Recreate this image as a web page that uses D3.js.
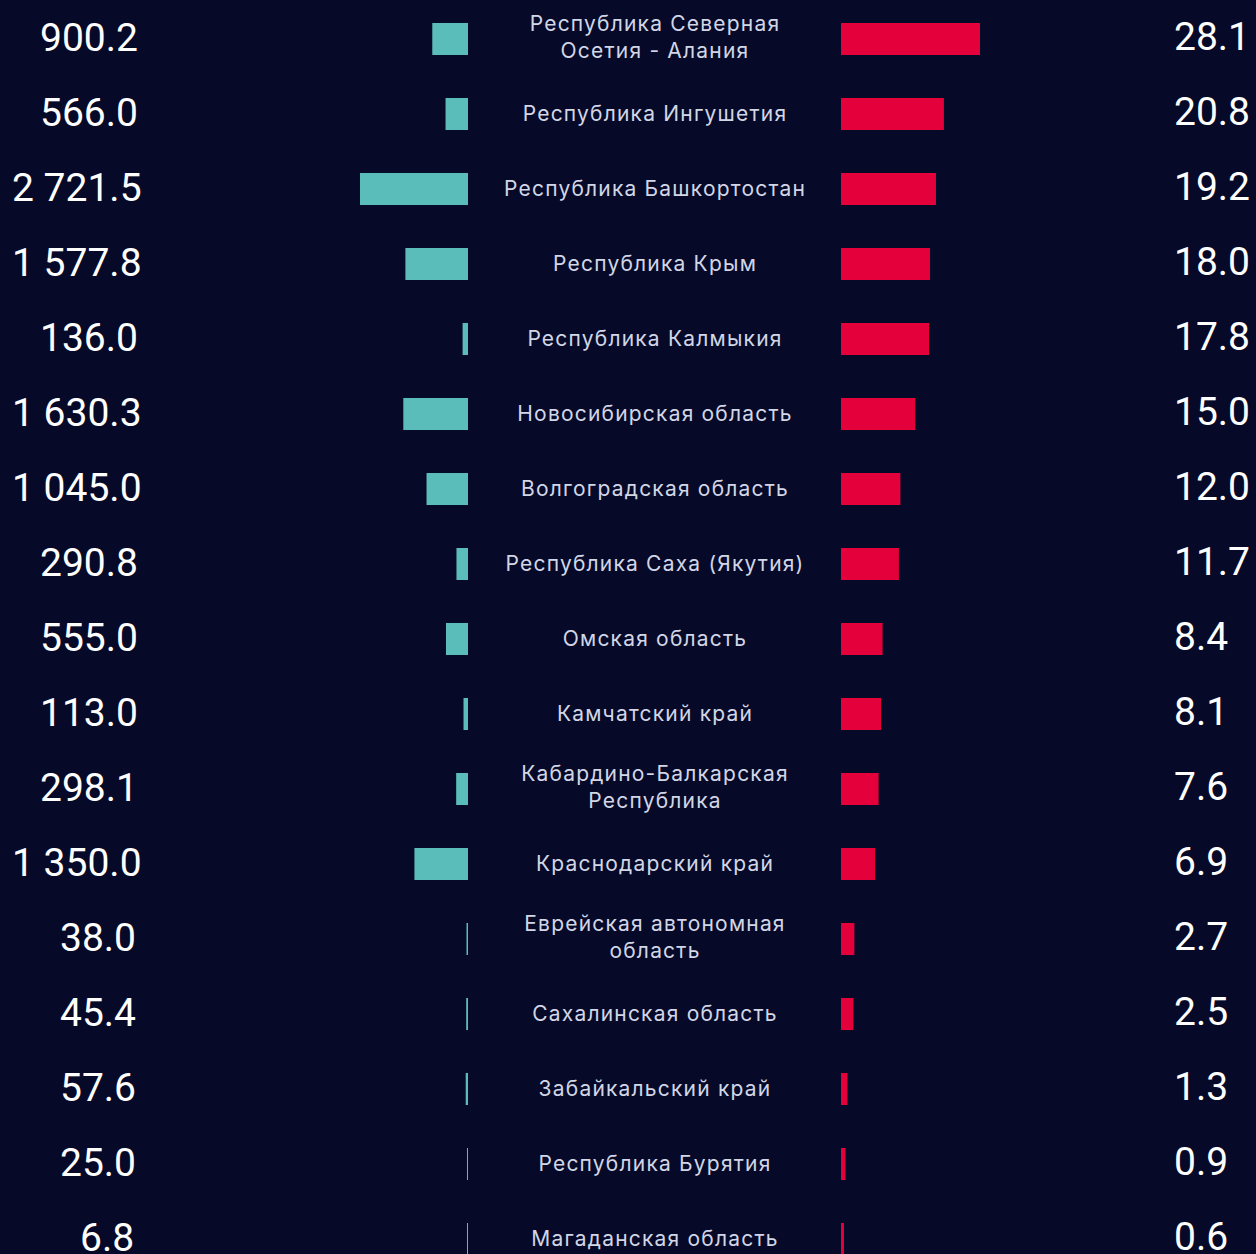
<!DOCTYPE html>
<html>
<head>
<meta charset="utf-8">
<script src="https://cdn.jsdelivr.net/npm/d3@7"></script>
<style>
  html, body { margin: 0; padding: 0; background: #060a28; }
  svg { display: block; }
</style>
</head>
<body>
<div id="chart"></div>
<script>
// regions, top to bottom (line breaks as in the picture)
const regions = [
    ["Республика Северная", "Осетия - Алания"],
    ["Республика Ингушетия"],
    ["Республика Башкортостан"],
    ["Республика Крым"],
    ["Республика Калмыкия"],
    ["Новосибирская область"],
    ["Волгоградская область"],
    ["Республика Саха (Якутия)"],
    ["Омская область"],
    ["Камчатский край"],
    ["Кабардино-Балкарская", "Республика"],
    ["Краснодарский край"],
    ["Еврейская автономная", "область"],
    ["Сахалинская область"],
    ["Забайкальский край"],
    ["Республика Бурятия"],
    ["Магаданская область"]
];

const leftValues = [900.2, 566.0, 2721.5, 1577.8, 136.0, 1630.3, 1045.0, 290.8, 555.0,
    113.0, 298.1, 1350.0, 38.0, 45.4, 57.6, 25.0, 6.8];

const rightValues = [28.1, 20.8, 19.2, 18.0, 17.8, 15.0, 12.0, 11.7, 8.4,
    8.1, 7.6, 6.9, 2.7, 2.5, 1.3, 0.9, 0.6];

const width = 1256;
const height = 1254;

const svg = d3.select("#chart")
    .append("svg")
    .attr("width", width)
    .attr("height", height)
    .style("background", "#060a28");

// =============================
// SCALES
// =============================
const y = d3.scaleBand()
    .domain(d3.range(regions.length))
    .range([1.5, 1.5 + 75 * regions.length])
    .paddingInner(0.573)
    .paddingOuter(0.2865);

const leftX = d3.scaleLinear()
    .domain([0, d3.max(leftValues)])
    .range([0, 108]);

const rightX = d3.scaleLinear()
    .domain([0, d3.max(rightValues)])
    .range([0, 139]);

const leftEdge = 468;
const rightEdge = 841;

const fmt = v => d3.format(",.1f")(v).replace(/,/g, " ");

const rows = svg.append("g")
    .selectAll("g")
    .data(regions.map((r, i) => ({ name: r, left: leftValues[i], right: rightValues[i], i })))
    .enter()
    .append("g");

// =============================
// BARS
// =============================
rows.append("rect")
    .attr("x", d => leftEdge - Math.max(1, leftX(d.left)))
    .attr("y", d => y(d.i))
    .attr("width", d => Math.max(1, leftX(d.left)))
    .attr("height", y.bandwidth())
    .attr("fill", "#5bbdb9");

rows.append("rect")
    .attr("x", rightEdge)
    .attr("y", d => y(d.i))
    .attr("width", d => Math.max(1, rightX(d.right)))
    .attr("height", y.bandwidth())
    .attr("fill", "#e4003b");

// =============================
// VALUE LABELS
// =============================
rows.append("text")
    .text(d => fmt(d.left))
    .attr("x", d => {
        const s = fmt(d.left);
        const spaces = s.split(" ").length - 1;
        return 140 - 20 * (s.length - spaces) - 8 * spaces;
    })
    .attr("y", d => y(d.i) + y.bandwidth() / 2 - 1)
    .attr("dominant-baseline", "central")
    .attr("fill", "#ffffff")
    .attr("font-family", "Roboto, sans-serif")
    .attr("font-size", 39);

rows.append("text")
    .text(d => fmt(d.right))
    .attr("x", 1174)
    .attr("y", d => y(d.i) + y.bandwidth() / 2 - 2)
    .attr("dominant-baseline", "central")
    .attr("fill", "#ffffff")
    .attr("font-family", "Roboto, sans-serif")
    .attr("font-size", 39);

// =============================
// REGION NAMES
// =============================
const names = rows.append("text")
    .attr("text-anchor", "middle")
    .attr("fill", "#d2d6e6")
    .attr("font-family", "Inter, sans-serif")
    .attr("font-size", 21)
    .attr("letter-spacing", 1.2);

names.selectAll("tspan")
    .data(d => d.name.map((line, k) => ({ line, k, n: d.name.length, i: d.i })))
    .enter()
    .append("tspan")
    .attr("x", 655)
    .attr("y", t => y(t.i) + y.bandwidth() / 2 + (t.k - (t.n - 1) / 2) * 27 - (t.n > 1 ? 2 : 1))
    .attr("dominant-baseline", "central")
    .text(t => t.line);
</script>
</body>
</html>
